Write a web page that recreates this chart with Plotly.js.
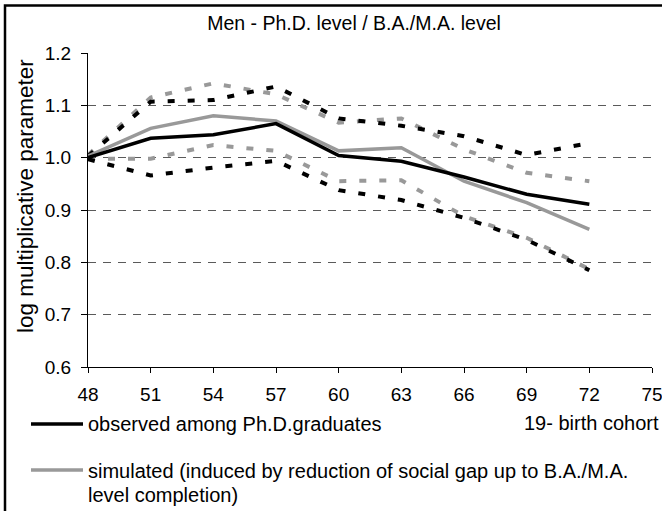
<!DOCTYPE html>
<html>
<head>
<meta charset="utf-8">
<script src="https://cdn.plot.ly/plotly-3.0.1.min.js"></script>
<style>html,body{margin:0;padding:0;background:#fff;}#chart{width:662px;height:511px;}</style>
</head>
<body>
<div id="chart"></div>
<script>
// Birth cohort (19xx)
const years = [48, 51, 54, 57, 60, 63, 66, 69, 72];
const xTicks = [48, 51, 54, 57, 60, 63, 66, 69, 72, 75];
const yTicks = [0.6, 0.7, 0.8, 0.9, 1.0, 1.1, 1.2];

// observed among Ph.D. graduates (solid black) and its confidence bounds (dotted black)
const observed = [1.000, 1.037, 1.044, 1.065, 1.004, 0.993, 0.963, 0.930, 0.911];
const observedUpper = [1.003, 1.107, 1.110, 1.136, 1.075, 1.061, 1.041, 1.005, 1.028];
const observedLower = [0.997, 0.966, 0.981, 0.994, 0.938, 0.919, 0.885, 0.843, 0.785];

// simulated (solid grey) and its confidence bounds (dotted grey)
const simulated = [1.003, 1.056, 1.080, 1.070, 1.013, 1.019, 0.955, 0.914, 0.863];
const simulatedUpper = [1.005, 1.115, 1.142, 1.121, 1.067, 1.075, 1.016, 0.971, 0.955];
const simulatedLower = [0.998, 0.998, 1.024, 1.013, 0.955, 0.957, 0.888, 0.847, 0.787];

const FONT = "Liberation Sans, Arial, sans-serif";
const BLACK = "#000000";
const GREY = "#999999";
const DOT = "7px,13px";

const L = 88, R = 10, T = 53, B = 144, WIDTH = 662, HEIGHT = 511;
const PW = WIDTH - L - R, PH = HEIGHT - T - B;
const px = v => (v - L) / PW;
const py = v => (HEIGHT - B - v) / PH;

const traces = [
  {x: years, y: simulatedUpper, mode: "lines", line: {color: GREY, width: 4, dash: DOT}},
  {x: years, y: simulatedLower, mode: "lines", line: {color: GREY, width: 4, dash: DOT}},
  {x: years, y: observedUpper, mode: "lines", line: {color: BLACK, width: 4, dash: DOT}},
  {x: years, y: observedLower, mode: "lines", line: {color: BLACK, width: 4, dash: DOT}},
  {x: years, y: simulated, mode: "lines", line: {color: GREY, width: 3.5}},
  {x: years, y: observed, mode: "lines", line: {color: BLACK, width: 3.5}}
];

const txt = (text, x, y, xanchor, size) => ({text, showarrow: false, xref: "paper", yref: "paper",
  x: px(x), y: py(y), xanchor, yanchor: "middle", font: {family: FONT, size, color: "#000"}});

const layout = {
  width: WIDTH, height: HEIGHT,
  margin: {l: L, r: R, t: T, b: B, pad: 0},
  paper_bgcolor: "#fff", plot_bgcolor: "#fff",
  showlegend: false,
  font: {family: FONT, size: 19, color: "#000"},
  title: {text: "Men - Ph.D. level / B.A./M.A. level", font: {family: FONT, size: 19.5, color: "#000"},
          xref: "paper", x: px(354), xanchor: "center", yref: "container", y: 1 - 23 / HEIGHT, yanchor: "middle"},
  xaxis: {range: [48, 75.0001], tickmode: "array", tickvals: xTicks, ticktext: xTicks.map(String),
          showgrid: false, zeroline: false, showline: true, linecolor: "#000", linewidth: 1,
          ticks: "outside", ticklen: 5, tickcolor: "#000", tickwidth: 1, ticklabeloverflow: "allow",
          tickfont: {family: FONT, size: 19, color: "#000"}, ticklabelstandoff: 5},
  yaxis: {range: [0.6, 1.2], tickmode: "array", tickvals: yTicks, ticktext: yTicks.map(v => v.toFixed(1)),
          showgrid: true, gridcolor: "#5a5a5a", gridwidth: 1, griddash: "8px,7px",
          zeroline: false, showline: true, linecolor: "#000", linewidth: 1,
          ticks: "outside", ticklen: 6, tickcolor: "#000", tickwidth: 1, ticklabeloverflow: "allow",
          tickfont: {family: FONT, size: 19, color: "#000"}, ticklabelstandoff: 6},
  shapes: [
    {type: "rect", xref: "paper", yref: "paper", x0: px(5), x1: px(700), y0: py(5.5), y1: py(560),
     line: {color: "#000", width: 2.5}, fillcolor: "rgba(0,0,0,0)", layer: "above"},
    {type: "line", xref: "paper", yref: "paper", x0: px(31), x1: px(83), y0: py(424), y1: py(424),
     line: {color: BLACK, width: 3.5}},
    {type: "line", xref: "paper", yref: "paper", x0: px(31), x1: px(83), y0: py(470), y1: py(470),
     line: {color: GREY, width: 3.5}}
  ],
  annotations: [
    Object.assign(txt("log multiplicative parameter", 25, 196, "center", 22.5), {textangle: -90}),
    txt("observed among Ph.D.graduates", 86, 424, "left", 20),
    txt("19- birth cohort", 661, 423, "right", 20),
    txt("simulated (induced by reduction of social gap up to B.A./M.A.", 86, 471, "left", 20),
    txt("level completion)", 86, 494.5, "left", 20)
  ]
};

Plotly.newPlot("chart", traces, layout, {staticPlot: true, displayModeBar: false});
</script>
</body>
</html>
